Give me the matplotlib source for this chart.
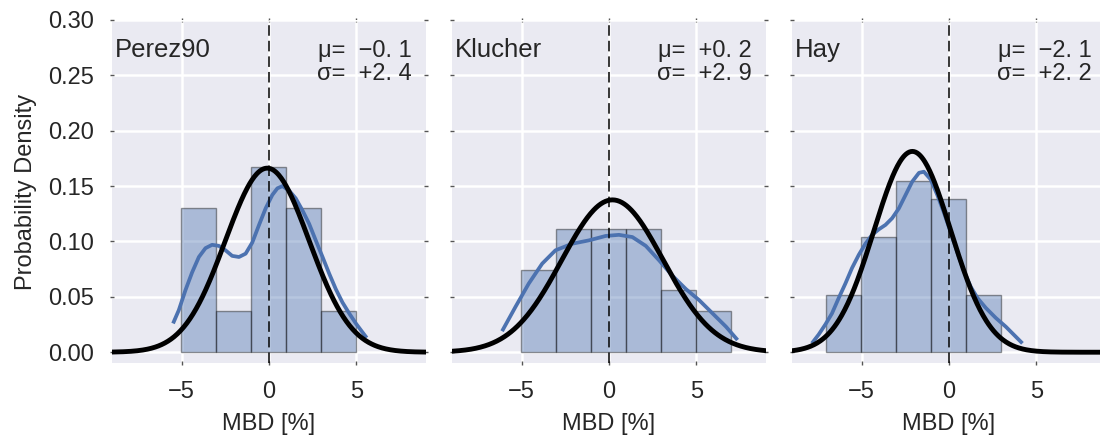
import numpy as np
import matplotlib
matplotlib.use("Agg")
import matplotlib.pyplot as plt

# ---- data ----
models = ["Perez90", "Klucher", "Hay"]
mu_vals = [-0.1, 0.2, -2.1]
sigma_vals = [2.4, 2.9, 2.2]

perez_edges = [-5.04, -3.03, -1.02, 0.96, 2.97, 4.98]
perez_heights = [0.130, 0.037, 0.167, 0.130, 0.037]
klucher_edges = [-5.04, -3.03, -1.02, 0.96, 2.97, 4.98, 6.99]
klucher_heights = [0.074, 0.111, 0.111, 0.111, 0.056, 0.037]
hay_edges = [-7.05, -5.04, -3.03, -1.02, 0.96, 2.97]
hay_heights = [0.052, 0.104, 0.155, 0.138, 0.052]

perez_kde_x = [-5.50, -5.17, -4.79, -4.41, -4.02, -3.64, -3.26, -2.87, -2.49, -2.11,
               -1.72, -1.34, -0.96, -0.57, -0.19, 0.19, 0.48, 0.77, 1.15, 1.53,
               1.92, 2.30, 2.68, 3.07, 3.45, 3.83, 4.21, 4.60, 4.98, 5.36, 5.60]
perez_kde_y = [0.026, 0.038, 0.056, 0.072, 0.086, 0.094, 0.097, 0.096, 0.092, 0.087,
               0.086, 0.089, 0.099, 0.115, 0.130, 0.142, 0.148, 0.150, 0.146, 0.139,
               0.128, 0.116, 0.101, 0.086, 0.071, 0.057, 0.045, 0.035, 0.026, 0.018, 0.013]
klucher_kde_x = [-6.13, -5.36, -4.60, -3.83, -3.07, -2.11, -1.15, -0.19, 0.57, 1.34,
                 2.11, 2.87, 3.64, 4.41, 5.17, 5.94, 6.71, 7.37]
klucher_kde_y = [0.019, 0.041, 0.062, 0.080, 0.092, 0.098, 0.101, 0.105, 0.106, 0.104,
                 0.096, 0.083, 0.069, 0.057, 0.047, 0.035, 0.023, 0.011]
hay_kde_x = [-7.86, -7.47, -7.09, -6.71, -6.32, -5.94, -5.56, -5.17, -4.79, -4.41,
             -4.02, -3.64, -3.26, -2.87, -2.49, -2.11, -1.72, -1.44, -1.05, -0.67,
             -0.29, 0.10, 0.48, 0.86, 1.25, 1.63, 2.11, 2.68, 3.26, 3.83, 4.21]
hay_kde_y = [0.008, 0.016, 0.025, 0.035, 0.049, 0.062, 0.076, 0.088, 0.098, 0.106,
             0.111, 0.115, 0.121, 0.130, 0.142, 0.154, 0.162, 0.163, 0.156, 0.142,
             0.126, 0.108, 0.090, 0.073, 0.059, 0.049, 0.040, 0.031, 0.023, 0.014, 0.008]

edges_list = [perez_edges, klucher_edges, hay_edges]
heights_list = [perez_heights, klucher_heights, hay_heights]
kde_x_list = [perez_kde_x, klucher_kde_x, hay_kde_x]
kde_y_list = [perez_kde_y, klucher_kde_y, hay_kde_y]

x_ticks = [-5, 0, 5]
y_ticks = [0.00, 0.05, 0.10, 0.15, 0.20, 0.25, 0.30]

# ---- style ----
plt.rcParams['font.family'] = ['Liberation Sans', 'DejaVu Sans']
text_color = '#262626'
blue = '#4C72B0'


def fmt_stat(sym, v):
    s = ('%+.1f' % v).replace('-', '\u2212')
    s = s.replace('.', '. ')
    return sym + '=  ' + s


W, H = 1100, 442
fig = plt.figure(figsize=(W / 100, H / 100), dpi=100)

ax_lefts = [112, 452, 792]
ax_w = 314
ax_top, ax_bot = 20, 363.3

for i, left in enumerate(ax_lefts):
    ax = fig.add_axes([left / W, (H - ax_bot) / H, ax_w / W, (ax_bot - ax_top) / H])
    ax.set_facecolor('#EAEAF2')
    for s in ax.spines.values():
        s.set_visible(False)
    ax.grid(True, color='white', linewidth=1.8, zorder=0)
    ax.set_axisbelow(True)

    edges = np.array(edges_list[i])
    ax.bar(edges[:-1], heights_list[i], width=np.diff(edges), align='edge',
           facecolor=blue, edgecolor='black', alpha=0.4, linewidth=1.0, zorder=2)
    ax.plot(kde_x_list[i], kde_y_list[i], color=blue, linewidth=2.7,
            solid_capstyle='butt', solid_joinstyle='round', zorder=3)

    xs = np.linspace(-9, 9, 400)
    mu, sd = mu_vals[i], sigma_vals[i]
    pdf = np.exp(-0.5 * ((xs - mu) / sd) ** 2) / (sd * np.sqrt(2 * np.pi))
    ax.plot(xs, pdf, color='black', linewidth=3.5, zorder=4)

    ax.axvline(0, color='black', linewidth=1.1, linestyle=(0, (6.9, 3.3)), zorder=5)

    ax.set_xlim(-9, 9)
    ax.set_ylim(-0.01, 0.30)
    ax.set_xticks(x_ticks)
    ax.set_xticklabels(['\u22125', '0', '5'])
    ax.set_yticks(y_ticks)
    ax.tick_params(axis='both', which='major', length=2.5, width=1, color='#555555',
                   direction='inout', labelsize=17, labelcolor=text_color, pad=11.5,
                   top=True, right=True)
    if i == 0:
        ax.set_yticklabels(['%.2f' % v for v in y_ticks])
        ax.set_ylabel('Probability Density', fontsize=17, color=text_color, labelpad=8)
    else:
        ax.set_yticklabels([])
    ax.set_xlabel('MBD [%]', fontsize=17, color=text_color, labelpad=7)

    ax.text(0.01, 0.893, models[i], transform=ax.transAxes, fontsize=18.5,
            color=text_color, ha='left', va='baseline')
    ax.text(0.956, 0.893, fmt_stat('\u03bc', mu), transform=ax.transAxes, fontsize=17,
            color=text_color, ha='right', va='baseline')
    ax.text(0.956, 0.825, fmt_stat('\u03c3', sd), transform=ax.transAxes, fontsize=17,
            color=text_color, ha='right', va='baseline')

fig.savefig('out.png', dpi=100)
